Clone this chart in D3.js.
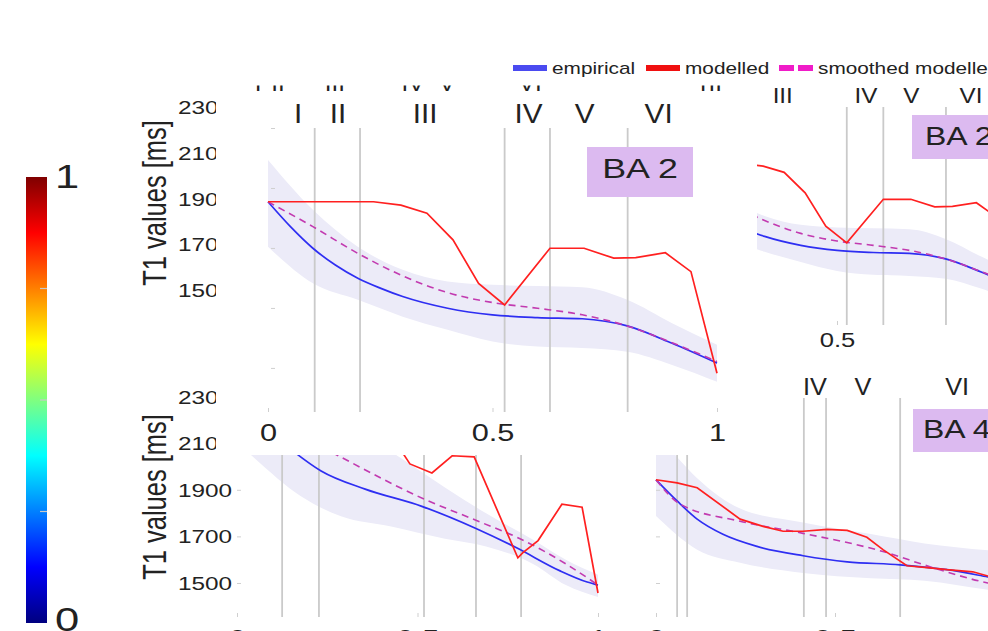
<!DOCTYPE html>
<html>
  <head>
    <meta charset="utf-8" />
    <script src="https://d3js.org/d3.v7.min.js"></script>
    <style>
      body { margin: 0; background: #fff; }
      text { font-family: "Liberation Sans", Arial, sans-serif; fill: #222; }
    </style>
  </head>
  <body>
    <svg id="fig"></svg>
    <script>
      // ---- data ----
      var romans = ["I", "II", "III", "IV", "V", "VI"];
      var ba2Layers = [0.104, 0.205, 0.527, 0.628, 0.801];
      var ba2RomanX = [0.067, 0.156, 0.35, 0.58, 0.705, 0.87];
      var leftLayers = [0.125, 0.227, 0.518, 0.662, 0.787];
      var ba4Layers = [0.059, 0.087, 0.413, 0.475, 0.682];
      var ba4RomanX = [0.03, 0.073, 0.25, 0.444, 0.578, 0.841];
      var hiddenRow = ["I", "II", "III", "IV", "V", "VI", "I", "II"];
      var hiddenRowX = [-0.022, 0.022, 0.149, 0.323, 0.399, 0.584, 0.969, 0.996];

      // BA 2 (top panels)
      var ba2EmpX = [0, 0.05, 0.1, 0.15, 0.2, 0.25, 0.3, 0.4, 0.5, 0.6, 0.7, 0.8, 0.9, 1];
      var ba2Emp = [1954, 1871, 1799, 1743, 1699, 1666, 1638, 1599, 1577, 1568, 1564, 1540, 1482, 1416];
      var ba2SmX = [0, 0.1, 0.2, 0.3, 0.4, 0.5, 0.6, 0.7, 0.8, 0.9, 1];
      var ba2Sm = [1954, 1871, 1782, 1707, 1651, 1618, 1599, 1577, 1540, 1484, 1421];
      var ba2ModX = [0, 0.104, 0.235, 0.296, 0.354, 0.412, 0.469, 0.527, 0.628, 0.704, 0.77, 0.819, 0.885, 0.942, 1];
      var ba2Mod = [1954, 1954, 1954, 1943, 1916, 1827, 1682, 1610, 1799, 1799, 1766, 1768, 1784, 1721, 1382];
      var ba2BandX = [0, 0.1, 0.2, 0.3, 0.4, 0.5, 0.6, 0.7, 0.8, 0.9, 1];
      var ba2Hi = [2093, 1927, 1804, 1727, 1688, 1677, 1673, 1669, 1627, 1549, 1477];
      var ba2Lo = [1804, 1682, 1627, 1571, 1527, 1488, 1471, 1466, 1454, 1410, 1354];

      // bottom left panel
      var leftEmpX = [0, 0.08, 0.158, 0.233, 0.355, 0.512, 0.662, 0.773, 0.895, 0.97, 1];
      var leftEmp = [2280, 2165, 2063, 1981, 1903, 1829, 1734, 1652, 1552, 1504, 1491];
      var leftSmX = [0, 0.26, 0.52, 0.67, 0.784, 0.911, 1];
      var leftSm = [2280, 2063, 1859, 1764, 1690, 1582, 1491];
      var leftModX = [0, 0.2, 0.35, 0.457, 0.479, 0.54, 0.596, 0.657, 0.778, 0.792, 0.834, 0.9, 0.956, 1];
      var leftMod = [2350, 2300, 2200, 2063, 2011, 1972, 2046, 2041, 1608, 1630, 1682, 1838, 1825, 1457];
      var leftBandX = [0, 0.028, 0.177, 0.288, 0.427, 0.576, 0.69, 0.82, 0.911, 1];
      var leftHi = [2500, 2480, 2350, 2200, 2063, 1910, 1799, 1686, 1600, 1535];
      var leftLo = [2100, 2063, 1872, 1786, 1742, 1690, 1657, 1582, 1491, 1440];

      // BA 4 (bottom right)
      var ba4EmpX = [0, 0.059, 0.115, 0.187, 0.282, 0.411, 0.534, 0.682, 0.813, 0.927, 1];
      var ba4Emp = [1943, 1852, 1774, 1709, 1657, 1617, 1591, 1578, 1557, 1526, 1505];
      var ba4SmX = [0, 0.067, 0.235, 0.411, 0.634, 0.765, 0.927, 1];
      var ba4Sm = [1943, 1839, 1765, 1713, 1635, 1570, 1500, 1480];
      var ba4ModX = [0, 0.059, 0.115, 0.235, 0.299, 0.355, 0.411, 0.478, 0.534, 0.589, 0.634, 0.701, 0.765, 0.813, 0.885, 0.927, 1];
      var ba4Mod = [1943, 1930, 1909, 1774, 1743, 1722, 1722, 1730, 1726, 1696, 1643, 1574, 1565, 1557, 1548, 1530, 1500];
      var ba4BandX = [0, 0.115, 0.235, 0.411, 0.6, 0.75, 0.93, 1];
      var ba4Hi = [2150, 1950, 1820, 1760, 1710, 1670, 1640, 1630];
      var ba4Lo = [1787, 1643, 1587, 1543, 1520, 1510, 1470, 1455];

      // ticks
      var mainYTicks = [1400, 1600, 1800, 2000, 2200];
      var mainYLabels = [1500, 1700, 1900, 2100, 2300];
      var leftYTicks = [1500, 1700, 1900, 2100, 2300];
      var xTicks = [0, 0.5, 1];
      var cbTicks = [0.25, 0.5, 0.75];
      var jetStops = [0, 0.125, 0.375, 0.625, 0.875, 1];
      var jetColors = ["#00007f", "#0000ff", "#00ffff", "#ffff00", "#ff0000", "#7f0000"];
      var legendNames = ["empirical", "modelled", "smoothed modelled"];

      // ---- layout ----
      var width = 988, height = 631;
      var SX = 1.28; // the original figure is stretched sideways
      var BLUE = "#2e2ef2", RED = "#ff2020", PINK = "#c23ab0", BAND = "#ecebf8", GRID = "#cacaca";

      var svg = d3.select("#fig").attr("width", width).attr("height", height);
      var defs = svg.append("defs");
      svg.append("rect").attr("width", width).attr("height", height).attr("fill", "#fff");

      function clip(id, x, y, w, h) {
        defs.append("clipPath").attr("id", id).append("rect")
          .attr("x", x).attr("y", y).attr("width", w).attr("height", h);
        return "url(#" + id + ")";
      }

      function label(g, x, y, s, size, anchor, sx) {
        return g.append("text")
          .attr("transform", "translate(" + x + "," + y + ") scale(" + (sx || SX) + ",1)")
          .attr("text-anchor", anchor || "start")
          .attr("font-size", size)
          .text(s);
      }

      function drawPanel(g, p) {
        var top = p.y.range()[1], bottom = p.y.range()[0];
        // shaded range
        g.append("path")
          .datum(p.bandX)
          .attr("fill", BAND)
          .attr("d", d3.area()
            .x(function (d) { return p.x(d); })
            .y0(function (d, i) { return p.y(p.lo[i]); })
            .y1(function (d, i) { return p.y(p.hi[i]); })
            .curve(d3.curveMonotoneX));
        // layer borders
        g.selectAll(".layer")
          .data(p.layers)
          .join("line")
          .attr("x1", function (d) { return p.x(d); })
          .attr("x2", function (d) { return p.x(d); })
          .attr("y1", top).attr("y2", bottom)
          .attr("stroke", GRID).attr("stroke-width", 1.8);
        var line = d3.line()
          .x(function (d) { return p.x(d[0]); })
          .y(function (d) { return p.y(d[1]); });
        g.append("path").datum(d3.zip(p.empX, p.emp))
          .attr("fill", "none").attr("stroke", BLUE).attr("stroke-width", 1.7)
          .attr("d", line.curve(d3.curveMonotoneX));
        g.append("path").datum(d3.zip(p.smX, p.sm))
          .attr("fill", "none").attr("stroke", PINK).attr("stroke-width", 1.6)
          .attr("stroke-dasharray", "7,5")
          .attr("d", line.curve(d3.curveMonotoneX));
        g.append("path").datum(d3.zip(p.modX, p.mod))
          .attr("fill", "none").attr("stroke", RED).attr("stroke-width", 1.7)
          .attr("d", line.curve(d3.curveLinear));
        // roman numerals for cortical layers
        if (p.romanX) {
          p.romanX.forEach(function (v, i) {
            label(g, p.x(v), p.romanY, romans[i], p.romanSize, "middle", 1.1);
          });
        }
        // BA box
        if (p.box) {
          g.append("rect").attr("x", p.box.x).attr("y", p.box.y)
            .attr("width", p.box.w).attr("height", p.box.h).attr("fill", "#dcbaf0");
          label(g, p.box.tx, p.box.ty, p.box.text, p.box.size, p.box.anchor);
        }
        // small inward ticks on the x axis
        var ax = g.append("g").attr("transform", "translate(0," + bottom + ")")
          .call(d3.axisBottom(p.x).tickValues(xTicks).tickSize(-4).tickPadding(p.xPad)
            .tickFormat(d3.format("")));
        ax.select(".domain").remove();
        ax.selectAll("line").attr("stroke", "#cfcfcf");
        ax.selectAll("text").attr("font-size", p.xSize).attr("fill", "#222")
          .attr("font-family", "Liberation Sans, Arial, sans-serif")
          .attr("transform", "scale(" + SX + ",1)");
        return g;
      }

      // ---- colorbar ----
      var grad = defs.append("linearGradient").attr("id", "jet")
        .attr("x1", 0).attr("y1", 1).attr("x2", 0).attr("y2", 0);
      jetStops.forEach(function (s, i) {
        grad.append("stop").attr("offset", s).attr("stop-color", jetColors[i]);
      });
      var cbY = d3.scaleLinear().domain([0, 1]).range([623, 177]);
      svg.append("rect").attr("x", 26).attr("y", cbY(1)).attr("width", 21)
        .attr("height", cbY(0) - cbY(1)).attr("fill", "url(#jet)");
      svg.selectAll(".cbtick").data(cbTicks).join("line")
        .attr("x1", 40).attr("x2", 47)
        .attr("y1", function (d) { return cbY(d); }).attr("y2", function (d) { return cbY(d); })
        .attr("stroke", "#c8c8c8").attr("stroke-width", 1.2);
      label(svg, 55, cbY(1) + 11, "1", 34, "start");
      label(svg, 55, cbY(0) + 8, "0", 34, "start");

      // ---- bottom left panel ----
      var xLeft = d3.scaleLinear().domain([0, 1]).range([237, 598]);
      var yLeft = d3.scaleLinear().domain([1354, 2500]).range([617, 350]);
      var gLeft = svg.append("g");
      drawPanel(gLeft, {
        x: xLeft, y: yLeft, layers: leftLayers,
        bandX: leftBandX, hi: leftHi, lo: leftLo,
        empX: leftEmpX, emp: leftEmp, smX: leftSmX, sm: leftSm, modX: leftModX, mod: leftMod,
        xPad: 13, xSize: 24
      });
      var lAx = gLeft.append("g").attr("transform", "translate(" + xLeft(0) + ",0)")
        .call(d3.axisLeft(yLeft).tickValues(leftYTicks).tickSize(-4).tickFormat(""));
      lAx.select(".domain").remove();
      lAx.selectAll("line").attr("stroke", "#cfcfcf");
      // labels under the main card are cut at its left edge
      var leftLabClip = clip("leftlab", 0, 0, 216, 631);
      var gLeftLab = svg.append("g");
      var gLeftTop = svg.append("g").attr("clip-path", leftLabClip);
      leftYTicks.forEach(function (v) {
        label(v > 2000 ? gLeftTop : gLeftLab, 232, yLeft(v) + 7, String(v), 19, "end");
      });

      // ---- BA 4 panel ----
      var xBa4 = d3.scaleLinear().domain([0, 1]).range([656, 1014]);
      var yBa4 = d3.scaleLinear().domain([1354, 2294]).range([617, 398]);
      var gBa4 = svg.append("g");
      drawPanel(gBa4, {
        x: xBa4, y: yBa4, layers: ba4Layers,
        bandX: ba4BandX, hi: ba4Hi, lo: ba4Lo,
        empX: ba4EmpX, emp: ba4Emp, smX: ba4SmX, sm: ba4Sm, modX: ba4ModX, mod: ba4Mod,
        romanX: ba4RomanX, romanY: 395, romanSize: 23,
        box: { x: 913, y: 409, w: 90, h: 43, tx: 923, ty: 438, text: "BA 4", size: 25, anchor: "start" },
        xPad: 13, xSize: 24
      });
      var bAx = gBa4.append("g").attr("transform", "translate(" + xBa4(0) + ",0)")
        .call(d3.axisLeft(yBa4).tickValues(leftYTicks.slice(0, 3)).tickSize(-4).tickFormat(""));
      bAx.select(".domain").remove();
      bAx.selectAll("line").attr("stroke", "#cfcfcf");

      // ---- top right copy of BA 2 ----
      var xTR = d3.scaleLinear().domain([0, 1]).range([656, 1018]);
      var yTR = d3.scaleLinear().domain([1253, 2200]).range([325, 107]);
      var gTR = svg.append("g").attr("clip-path", clip("trclip", 757, 80, 240, 280));
      drawPanel(gTR, {
        x: xTR, y: yTR, layers: ba2Layers,
        bandX: ba2BandX, hi: ba2Hi, lo: ba2Lo,
        empX: ba2EmpX, emp: ba2Emp, smX: ba2SmX, sm: ba2Sm, modX: ba2ModX, mod: ba2Mod,
        romanX: ba2RomanX, romanY: 103, romanSize: 22,
        box: { x: 912, y: 115, w: 90, h: 44, tx: 925, ty: 145, text: "BA 2", size: 25, anchor: "start" },
        xPad: 8, xSize: 20
      });

      // row of labels peeking out from behind the main panel
      var xMain = d3.scaleLinear().domain([0, 1]).range([268, 717]);
      var gHidden = svg.append("g").attr("clip-path", clip("hidclip", 200, 85.5, 560, 6.5));
      hiddenRow.forEach(function (s, i) {
        label(gHidden, xMain(hiddenRowX[i]), 91, s, 22, "middle", 1.1);
      });

      // ---- main BA 2 panel on a white card ----
      svg.append("rect").attr("x", 216).attr("y", 92).attr("width", 541).attr("height", 363)
        .attr("fill", "#fff");
      var yMain = d3.scaleLinear().domain([1253, 2200]).range([412, 128]);
      var gMain = svg.append("g");
      drawPanel(gMain, {
        x: xMain, y: yMain, layers: ba2Layers,
        bandX: ba2BandX, hi: ba2Hi, lo: ba2Lo,
        empX: ba2EmpX, emp: ba2Emp, smX: ba2SmX, sm: ba2Sm, modX: ba2ModX, mod: ba2Mod,
        romanX: ba2RomanX, romanY: 123, romanSize: 27,
        box: { x: 587, y: 147, w: 106, h: 50, tx: 640, ty: 178, text: "BA 2", size: 28, anchor: "middle" },
        xPad: 12, xSize: 24
      });
      var mAx = gMain.append("g").attr("transform", "translate(" + (xMain(0) + 3) + ",0)")
        .call(d3.axisLeft(yMain).tickValues(mainYTicks).tickSize(-4).tickFormat(""));
      mAx.select(".domain").remove();
      mAx.selectAll("line").attr("stroke", "#cfcfcf");

      // y labels of the main panel, cut by the card edge
      var yMainLab = d3.scaleLinear().domain([1500, 2300]).range([290, 107]);
      var gMainLab = svg.append("g").attr("clip-path", leftLabClip);
      mainYLabels.forEach(function (v) {
        label(gMainLab, 232, yMainLab(v) + 7, String(v), 19, "end");
      });

      // axis titles
      [203, 497].forEach(function (cy) {
        svg.append("text")
          .attr("transform", "translate(166," + cy + ") scale(" + SX + ",1) rotate(-90)")
          .attr("text-anchor", "middle").attr("font-size", 25.5)
          .text("T1 values [ms]");
      });

      // ---- legend ----
      var legX = [513, 646, 779];
      var legColors = ["#4a4af0", "#f01010", "#f01cc8"];
      var gLeg = svg.append("g");
      legendNames.forEach(function (name, i) {
        if (i < 2) {
          gLeg.append("rect").attr("x", legX[i]).attr("y", 65).attr("width", 34).attr("height", 6)
            .attr("fill", legColors[i]);
        } else {
          gLeg.append("line").attr("x1", legX[i]).attr("x2", legX[i] + 37).attr("y1", 68).attr("y2", 68)
            .attr("stroke", legColors[i]).attr("stroke-width", 6).attr("stroke-dasharray", "15,4");
        }
        label(gLeg, legX[i] + 39, 73.5, name, 16, "start", 1.3);
      });
    </script>
  </body>
</html>
